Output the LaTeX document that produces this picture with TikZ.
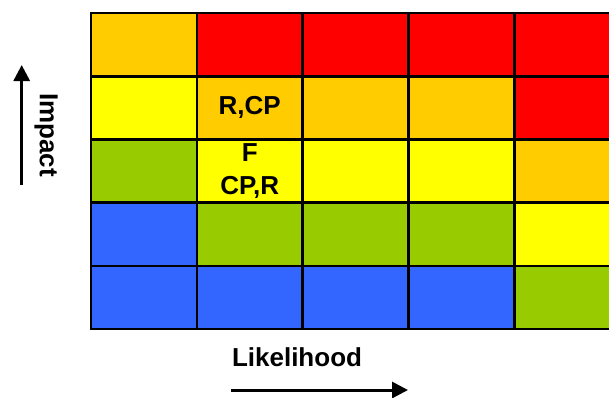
\documentclass[tikz,border=0pt]{standalone}
\usepackage{fontspec}
\setmainfont{Liberation Sans}
\usetikzlibrary{arrows.meta}
\definecolor{rOrange}{HTML}{FFCC00}
\definecolor{rRed}{HTML}{FF0000}
\definecolor{rYellow}{HTML}{FFFF00}
\definecolor{rGreen}{HTML}{99CC00}
\definecolor{rBlue}{HTML}{3366FF}
\begin{document}
\begin{tikzpicture}[x=1pt,y=-1pt,
  cell/.style={draw=black,line width=2.6pt,minimum width=105.8pt,minimum height=63.2pt,inner sep=0pt,outer sep=0pt},
  lbl/.style={font=\bfseries\fontsize{26}{31}\selectfont,inner sep=0pt},
  axis/.style={line width=3pt,-{Triangle[length=16pt,width=16pt]}}]
\useasboundingbox (0,0) rectangle (609,397);
\fill[white] (0,0) rectangle (609,397);
\begin{scope}
\clip (0,0) rectangle (609,397);
\foreach \r/\cols in {1/{rOrange,rRed,rRed,rRed,rRed},2/{rYellow,rOrange,rOrange,rOrange,rRed},3/{rGreen,rYellow,rYellow,rYellow,rOrange},4/{rBlue,rGreen,rGreen,rGreen,rYellow},5/{rBlue,rBlue,rBlue,rBlue,rGreen}}{
  \foreach \c [count=\k] in \cols {
    \node[cell,fill=\c] (c\r\k) at ({91+105.8*(\k-0.5)},{13+63.2*(\r-0.5)}) {};
  }
}
\end{scope}
\node[lbl] (rcp) at (c22) {R,CP};
\node[lbl,align=center,font=\bfseries\fontsize{26}{33}\selectfont] (fcpr) at (c32) {F\\CP,R};
\node[lbl,rotate=-90] (impact) at (46,135) {Impact};
\node[lbl] (likelihood) at (297,357) {Likelihood};
\coordinate (ia) at (21.7,185);
\coordinate (ib) at (21.7,65);
\coordinate (la) at (231,390);
\coordinate (lb) at (408,390);
\draw[axis] (ia) -- (ib);
\draw[axis] (la) -- (lb);
\end{tikzpicture}
\end{document}
